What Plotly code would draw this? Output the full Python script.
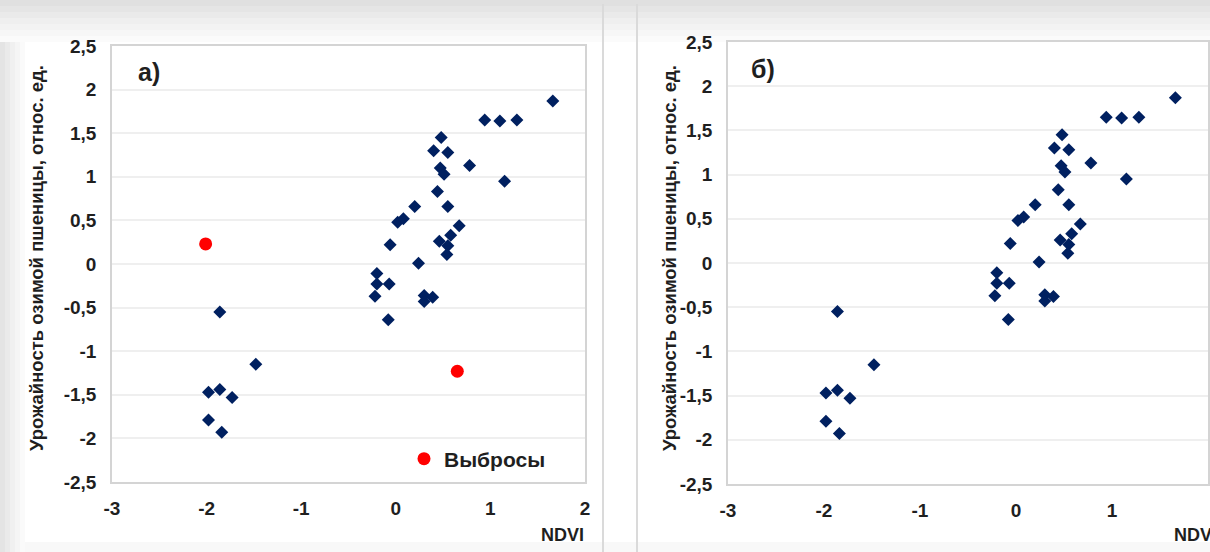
import plotly.graph_objects as go

# ---- data ----
ndvi = [1.66, 0.94, 1.10, 1.28, 0.48, 0.40, 0.55, 0.78, 0.47, 0.51, 1.15, 0.44,
        0.20, 0.55, 0.02, 0.08, 0.67, -0.06, 0.46, 0.58, 0.55, 0.54, 0.24,
        -0.20, -0.20, -0.07, -0.22, 0.30, 0.39, 0.30, -0.08,
        -1.86, -1.48, -1.98, -1.86, -1.73, -1.98, -1.84]
yield_rel = [1.87, 1.65, 1.64, 1.65, 1.45, 1.30, 1.28, 1.13, 1.10, 1.03, 0.95, 0.83,
             0.66, 0.66, 0.48, 0.52, 0.44, 0.22, 0.26, 0.33, 0.21, 0.11, 0.01,
             -0.11, -0.23, -0.23, -0.37, -0.36, -0.38, -0.43, -0.64,
             -0.55, -1.15, -1.47, -1.44, -1.53, -1.79, -1.93]
outlier_ndvi = [-2.01, 0.65]
outlier_yield = [0.23, -1.23]

x_tickvals = [-3, -2, -1, 0, 1, 2]
x_ticktext = ["-3", "-2", "-1", "0", "1", "2"]
y_tickvals = [-2.5, -2, -1.5, -1, -0.5, 0, 0.5, 1, 1.5, 2, 2.5]
y_ticktext = ["-2,5", "-2", "-1,5", "-1", "-0,5", "0", "0,5", "1", "1,5", "2", "2,5"]

y_title = "Урожайность озимой пшеницы, относ. ед."
x_title = "NDVI"
panel_labels = ["а)", "б)"]
legend_name = "Выбросы"

W, H = 1210, 552
FONT = "Liberation Sans, Arial, sans-serif"
TXT = "#1f1f1f"
NAVY = "#002060"

def px(x):
    return x / W

def py(y):
    return 1 - y / H

fig = go.Figure()

fig.add_trace(go.Scatter(x=ndvi, y=yield_rel, mode="markers", xaxis="x", yaxis="y",
                         marker=dict(symbol="diamond", size=10, color=NAVY),
                         showlegend=False, hoverinfo="x+y"))
fig.add_trace(go.Scatter(x=outlier_ndvi, y=outlier_yield, mode="markers", xaxis="x", yaxis="y",
                         marker=dict(symbol="circle", size=13, color="#ff0000"),
                         name=legend_name, showlegend=True))
fig.add_trace(go.Scatter(x=ndvi, y=yield_rel, mode="markers", xaxis="x2", yaxis="y2",
                         marker=dict(symbol="diamond", size=10, color=NAVY),
                         showlegend=False, hoverinfo="x+y"))

tickfont = dict(family=FONT, size=19, color=TXT, weight="bold")
axis_common_x = dict(range=[-3, 2], tickmode="array", tickvals=x_tickvals, ticktext=x_ticktext,
                     showgrid=False, zeroline=False, showline=True, mirror=True,
                     linecolor="#d4d4d4", linewidth=1.5, ticks="", ticklabelstandoff=8,
                     tickfont=tickfont, automargin=False)
axis_common_y = dict(range=[-2.5, 2.5], tickmode="array", tickvals=y_tickvals, ticktext=y_ticktext,
                     showgrid=True, gridcolor="#efefef", gridwidth=1.5, zeroline=False,
                     showline=True, mirror=True, linecolor="#d4d4d4", linewidth=1.5,
                     ticks="", ticklabelstandoff=10, tickfont=tickfont, automargin=False)

L1, R1, T1, B1 = 112, 585, 46, 482
L2, R2, T2, B2 = 728, 1208, 42, 484

fig.update_layout(
    width=W, height=H,
    margin=dict(l=0, r=0, t=0, b=0, autoexpand=False),
    paper_bgcolor="white", plot_bgcolor="white",
    xaxis=dict(domain=[px(L1), px(R1)], anchor="y", **axis_common_x),
    yaxis=dict(domain=[py(B1), py(T1)], anchor="x", **axis_common_y),
    xaxis2=dict(domain=[px(L2), px(R2)], anchor="y2", **axis_common_x),
    yaxis2=dict(domain=[py(B2), py(T2)], anchor="x2", **axis_common_y),
    showlegend=True,
    legend=dict(x=px(R1 - 34), y=py(459), xanchor="right", yanchor="middle",
                bgcolor="rgba(0,0,0,0)", itemwidth=30,
                font=dict(family=FONT, size=21, color=TXT, weight="bold")),
)

# background: top gradient, left shadow, bottom tint, separators
shapes = []
top_steps = [(0, 6, "#e0e0e0"), (6, 12, "#e5e5e5"), (12, 18, "#eaeaea"),
             (18, 24, "#efefef"), (24, 30, "#f3f3f3"), (30, 36, "#f7f7f7"), (36, 42, "#fbfbfb")]
for y0, y1, c in top_steps:
    shapes.append(dict(type="rect", xref="paper", yref="paper", x0=0, x1=1,
                       y0=py(y1), y1=py(y0), fillcolor=c, line=dict(width=0), layer="below"))
left_steps = [(0, 5, "#e4e4e4"), (5, 10, "#eaeaea"), (10, 15, "#f0f0f0"),
              (15, 20, "#f5f5f5"), (20, 25, "#fafafa")]
for x0, x1, c in left_steps:
    shapes.append(dict(type="rect", xref="paper", yref="paper", x0=px(x0), x1=px(x1),
                       y0=0, y1=py(42), fillcolor=c, line=dict(width=0), layer="below"))
shapes.append(dict(type="rect", xref="paper", yref="paper", x0=px(25), x1=1, y0=0, y1=py(542),
                   fillcolor="#f8f8f8", line=dict(width=0), layer="below"))
for xs in (603, 637):
    shapes.append(dict(type="line", xref="paper", yref="paper", x0=px(xs), x1=px(xs),
                       y0=0, y1=py(4), line=dict(color="#dadada", width=2), layer="below"))
fig.update_layout(shapes=shapes)

ann = []
for cx in (36, 669):
    ann.append(dict(text=y_title, xref="paper", yref="paper", x=px(cx), y=py(258),
                    textangle=-90, showarrow=False, xanchor="center", yanchor="middle",
                    font=dict(family=FONT, size=18.5, color=TXT, weight="bold")))
ann.append(dict(text=x_title, xref="paper", yref="paper", x=px(586), y=py(535),
                showarrow=False, xanchor="right", yanchor="middle",
                font=dict(family=FONT, size=18, color=TXT, weight="bold")))
ann.append(dict(text=x_title, xref="paper", yref="paper", x=px(1172), y=py(535),
                showarrow=False, xanchor="left", yanchor="middle",
                font=dict(family=FONT, size=18, color=TXT, weight="bold")))
ann.append(dict(text=panel_labels[0], xref="paper", yref="paper", x=px(136), y=py(72),
                showarrow=False, xanchor="left", yanchor="middle",
                font=dict(family=FONT, size=25, color=TXT, weight="bold")))
ann.append(dict(text=panel_labels[1], xref="paper", yref="paper", x=px(749), y=py(69),
                showarrow=False, xanchor="left", yanchor="middle",
                font=dict(family=FONT, size=25, color=TXT, weight="bold")))
fig.update_layout(annotations=ann)

fig.write_html("out.html", config={"displayModeBar": False},
               post_script="document.body.style.margin='0';document.body.style.overflow='hidden';")
